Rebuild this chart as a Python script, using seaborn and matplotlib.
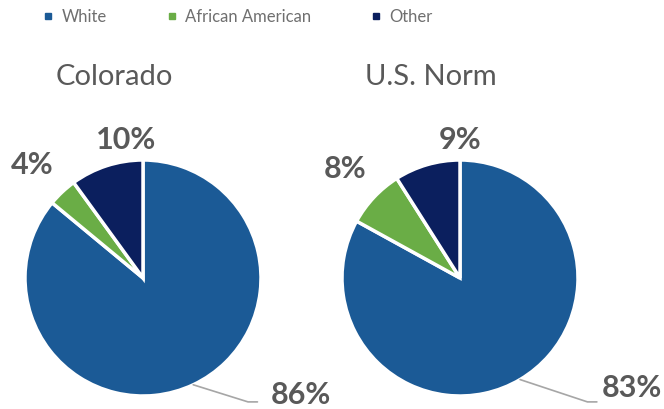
import numpy as np
import matplotlib
matplotlib.use("Agg")
import matplotlib.pyplot as plt
from matplotlib.lines import Line2D
import seaborn as sns

categories = ["White", "African American", "Other"]
colorado = [86, 4, 10]
us_norm = [83, 8, 9]
titles = ["Colorado", "U.S. Norm"]
colors = ["#1B5A96", "#6AAD46", "#0B1F5E"]

sns.set_theme(style="white")
plt.rcParams['font.family'] = ['Lato', 'DejaVu Sans']

W, H = 664, 409
fig = plt.figure(figsize=(W / 100, H / 100), dpi=100)
R = 118  # pixels

layouts = [
    {"cx": 143, "cy": 278, "small": {1: (-0.94, 0.96), 2: (-0.14, 1.17)},
     "big_label": (1.08, -0.99), "line_end": (0.97, -1.05), "title_x": 114},
    {"cx": 460, "cy": 278, "small": {1: (-0.97, 0.92), 2: (0.0, 1.17)},
     "big_label": (1.20, -0.93), "line_end": (1.16, -1.05), "title_x": 431},
]

for vals, title, lay in zip([colorado, us_norm], titles, layouts):
    ax = fig.add_axes([(lay["cx"] - R) / W, (H - lay["cy"] - R) / H, 2 * R / W, 2 * R / H])
    wedges, _ = ax.pie(vals, colors=colors, startangle=90, counterclock=False,
                       radius=1.0, wedgeprops=dict(edgecolor="white", linewidth=2.5))
    ax.set_xlim(-1, 1)
    ax.set_ylim(-1, 1)
    ax.set_aspect("equal")
    ax.axis("off")
    for i, v in enumerate(vals):
        if i in lay["small"]:
            x, y = lay["small"][i]
            ax.text(x, y, f"{v}%", ha="center", va="center", fontsize=22,
                    fontweight="bold", color="#595959", clip_on=False)
    w = wedges[0]
    mid = np.deg2rad((w.theta1 + w.theta2) / 2)
    sx, sy = np.cos(mid), np.sin(mid)
    ex, ey = lay["line_end"]
    ax.plot([sx, ex - 0.08, ex], [sy, ey, ey], color="#A6A6A6", lw=1.2, clip_on=False)
    bx, by = lay["big_label"]
    ax.text(bx, by, f"{vals[0]}%", ha="left", va="center", fontsize=22,
            fontweight="bold", color="#595959", clip_on=False)
    fig.text(lay["title_x"] / W, 1 - 77 / H, title, ha="center", va="center",
             fontsize=21, color="#595959")

handles = [Line2D([0], [0], marker="s", linestyle="none", markersize=4.5,
                  markerfacecolor=c, markeredgecolor=c) for c in colors]
fig.legend(handles, categories, loc="center", bbox_to_anchor=(238 / W, 1 - 17 / H),
           ncol=3, frameon=False, fontsize=12, labelcolor="#6F6F6F",
           handlelength=0.6, handletextpad=0.5, columnspacing=3.6)

fig.savefig("out.png", dpi=100, facecolor="white")
